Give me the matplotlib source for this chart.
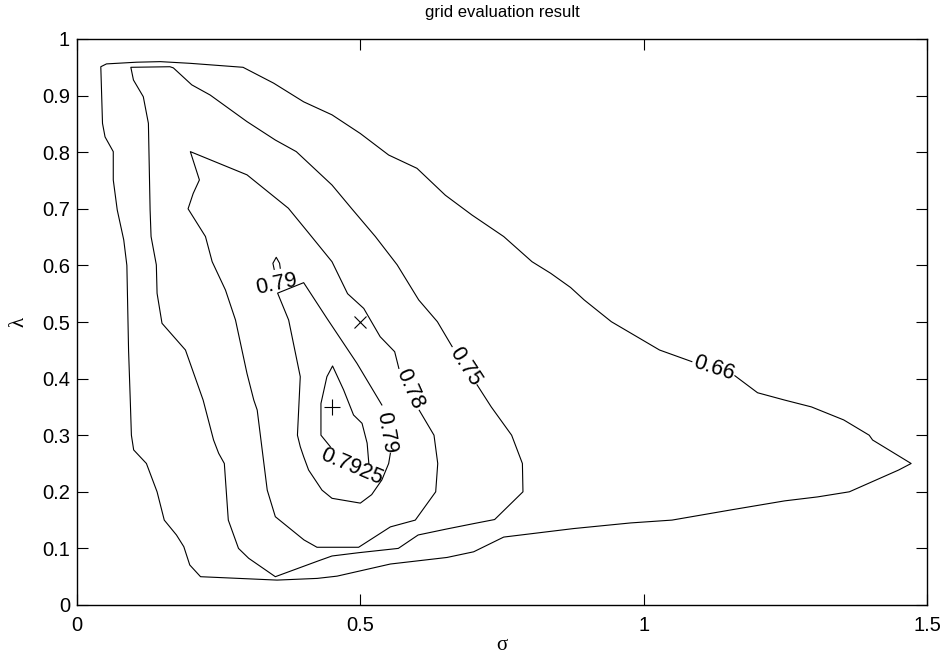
import matplotlib
matplotlib.use("Agg")
import matplotlib.pyplot as plt

plt.rcParams['font.family'] = ['Liberation Sans', 'DejaVu Sans']

# contour lines, each one broken where its inline label sits
# level 0.66 (outermost)
c066_sigma = [1.161, 1.201, 1.249, 1.296, 1.353, 1.398, 1.404, 1.472, 1.450, 1.363, 1.307,
              1.249, 1.154, 1.050, 0.977, 0.876, 0.753, 0.700, 0.653, 0.553, 0.459, 0.424,
              0.353, 0.218, 0.199, 0.1885, 0.1755, 0.154, 0.1413, 0.1225, 0.100, 0.096,
              0.094, 0.091, 0.088, 0.0825, 0.071, 0.064, 0.064, 0.0495, 0.045, 0.042, 0.052,
              0.105, 0.147, 0.200, 0.293, 0.347, 0.400, 0.450, 0.500, 0.550, 0.600, 0.650,
              0.697, 0.753, 0.803, 0.836, 0.871, 0.895, 0.943, 1.028, 1.085]
c066_lambda = [0.405, 0.375, 0.362, 0.350, 0.327, 0.300, 0.2915, 0.250, 0.2385, 0.200, 0.191,
               0.184, 0.168, 0.150, 0.145, 0.135, 0.120, 0.094, 0.084, 0.0724, 0.051, 0.047,
               0.044, 0.050, 0.0707, 0.103, 0.1237, 0.150, 0.200, 0.250, 0.274, 0.300,
               0.362, 0.450, 0.600, 0.645, 0.698, 0.751, 0.801, 0.827, 0.851, 0.951, 0.956,
               0.959, 0.960, 0.957, 0.950, 0.922, 0.889, 0.866, 0.833, 0.795, 0.7715, 0.724,
               0.689, 0.651, 0.6065, 0.586, 0.561, 0.539, 0.5005, 0.4505, 0.430]

# level 0.75
c075_sigma = [0.706, 0.731, 0.767, 0.786, 0.787, 0.737, 0.701, 0.651, 0.602, 0.567, 0.497,
              0.450, 0.426, 0.350, 0.303, 0.285, 0.267, 0.260, 0.250, 0.241, 0.2226, 0.1914,
              0.150, 0.1413, 0.140, 0.1307, 0.129, 0.126, 0.117, 0.0996, 0.095, 0.164, 0.170,
              0.2025, 0.235, 0.300, 0.350, 0.387, 0.450, 0.485, 0.5265, 0.565, 0.603, 0.636,
              0.662]
c075_lambda = [0.389, 0.350, 0.300, 0.250, 0.200, 0.151, 0.144, 0.134, 0.1237, 0.100, 0.0924,
               0.0866, 0.078, 0.050, 0.0825, 0.100, 0.150, 0.250, 0.268, 0.2915, 0.362, 0.4505,
               0.4977, 0.5507, 0.601, 0.651, 0.698, 0.851, 0.898, 0.9276, 0.950, 0.951, 0.949,
               0.919, 0.901, 0.854, 0.8215, 0.801, 0.742, 0.700, 0.651, 0.601, 0.539, 0.5005,
               0.4565]

# level 0.78
c078_sigma = [0.604, 0.630, 0.6366, 0.633, 0.597, 0.553, 0.497, 0.4235, 0.4005, 0.350, 0.3357,
              0.318, 0.312, 0.300, 0.2797, 0.262, 0.2385, 0.2267, 0.196, 0.205, 0.216, 0.200,
              0.300, 0.373, 0.409, 0.450, 0.4775, 0.506, 0.535, 0.5606, 0.568]
c078_lambda = [0.344, 0.300, 0.250, 0.200, 0.150, 0.138, 0.102, 0.102, 0.115, 0.156, 0.203,
               0.3445, 0.362, 0.409, 0.5035, 0.5565, 0.6066, 0.651, 0.700, 0.727, 0.751, 0.801,
               0.760, 0.701, 0.657, 0.6065, 0.550, 0.524, 0.474, 0.4475, 0.418]

# level 0.79 (main loop and the small drop above it)
c079_sigma = [0.553, 0.550, 0.538, 0.520, 0.500, 0.450, 0.4323, 0.4087, 0.400, 0.394, 0.389,
              0.394, 0.3735, 0.354, 0.400, 0.441, 0.494, 0.538]
c079_lambda = [0.268, 0.250, 0.221, 0.195, 0.180, 0.1885, 0.203, 0.2385, 0.262, 0.2797, 0.300,
               0.4034, 0.5035, 0.551, 0.5695, 0.5065, 0.427, 0.3534]
c079b_sigma = [0.348, 0.3457, 0.3516, 0.3575, 0.3587]
c079b_lambda = [0.593, 0.6037, 0.6143, 0.6037, 0.595]

# level 0.7925 (innermost)
c07925_sigma = [0.515, 0.512, 0.503, 0.488, 0.4705, 0.451, 0.441, 0.4305, 0.4305, 0.447]
c07925_lambda = [0.250, 0.286, 0.321, 0.3357, 0.380, 0.4223, 0.4034, 0.356, 0.300, 0.2797]

contours = [(c066_sigma, c066_lambda), (c075_sigma, c075_lambda), (c078_sigma, c078_lambda),
            (c079_sigma, c079_lambda), (c079b_sigma, c079b_lambda), (c07925_sigma, c07925_lambda)]

# inline labels: text, sigma, lambda, angle
label_text = ['0.66', '0.75', '0.78', '0.79', '0.79', '0.7925']
label_sigma = [1.123, 0.685, 0.587, 0.5455, 0.352, 0.485]
label_lambda = [0.4175, 0.422, 0.382, 0.305, 0.567, 0.245]
label_angle = [-18, -57, -66, -80, 12, -23]

# best point (+) and start point (x)
best_point = (0.45, 0.35)
start_point = (0.5, 0.5)

fig = plt.figure(figsize=(9.43, 6.57), dpi=100)
ax = fig.add_axes([77 / 943, 52 / 657, 850 / 943, 566 / 657])

for xs, ys in contours:
    ax.plot(xs, ys, color='black', lw=0.8)

for t, x, y, a in zip(label_text, label_sigma, label_lambda, label_angle):
    ax.text(x, y, t, rotation=a, ha='center', va='center', fontsize=15.5,
            rotation_mode='anchor')

ax.plot(*best_point, marker='+', color='black', ms=11, mew=0.8)
ax.plot(*start_point, marker='x', color='black', ms=8, mew=0.8)

ax.set_xlim(0, 1.5)
ax.set_ylim(0, 1)
ax.set_xticks([0, 0.5, 1, 1.5])
ax.set_xticklabels(['0', '0.5', '1', '1.5'])
ax.set_yticks([i / 10 for i in range(11)])
ax.set_yticklabels(['0', '0.1', '0.2', '0.3', '0.4', '0.5', '0.6', '0.7', '0.8', '0.9', '1'])
ax.tick_params(direction='in', length=8, width=0.8, top=True, right=True, labelsize=14.5)
ax.tick_params(axis='x', pad=8)
ax.tick_params(axis='y', pad=5)
for s in ax.spines.values():
    s.set_linewidth(1.0)

ax.set_title('grid evaluation result', fontsize=12, pad=16)
ax.set_xlabel('σ', fontsize=15, family='Liberation Serif', labelpad=1)
ax.set_ylabel('λ', fontsize=15, family='Liberation Serif', labelpad=10)

fig.savefig('out.png', dpi=100)
